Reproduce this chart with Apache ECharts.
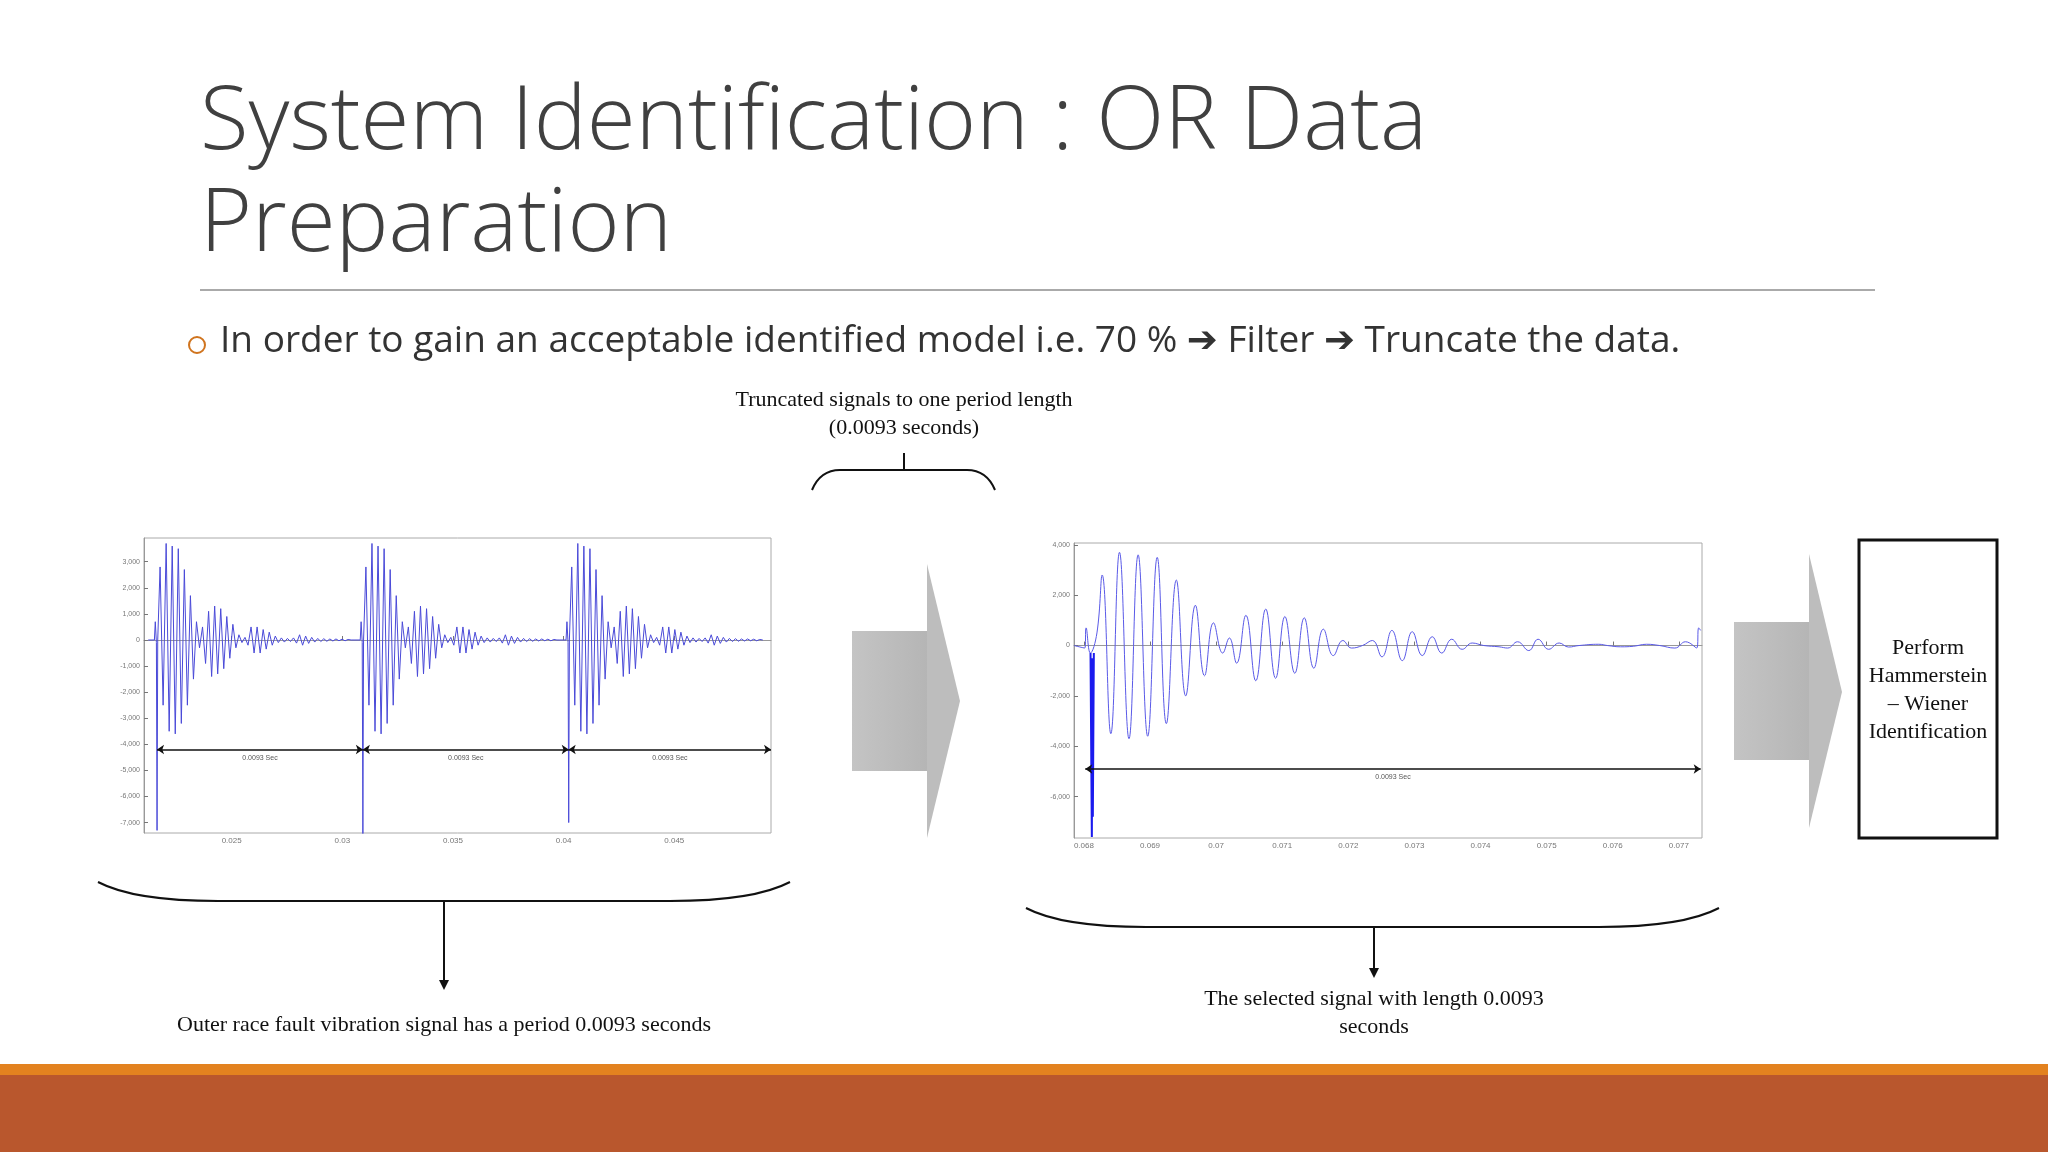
<!DOCTYPE html>
<html>
<head>
<meta charset="utf-8">
<script src="https://cdn.jsdelivr.net/npm/echarts@6/dist/echarts.min.js"></script>
<style>html,body{margin:0;padding:0;background:#fff}#main{width:2048px;height:1152px}</style>
</head>
<body>
<div id="main"></div>
<script>
// 左图: 三个周期的外圈故障振动信号
var leftBurstStarts = [0.02163, 0.03093, 0.04023];
var leftSpikeMins = [-7300, -7500, -7000];
var leftStep = 0.000137;
var leftBurstAmps = [2800, -2500, 3700, -3500, 3600, -3600, 3500, -3200, 2700, -2500, 1700, -1500, 700, -300,
    500, -900, 1100, -1400, 1300, -1300, 1200, -1100, 900, -700, 600, -300, 200, -100, 100, -200, 500, -500,
    500, -500, 400, -350, 300, -200, 150, -100, 80, -80, 60, -60, 80, -120, 200, -200, 150, -130, 100, -80,
    60, -60, 50, -50, 40, -40, 40, -30, 30, -30, 20, 0];
var leftXTicks = [0.025, 0.03, 0.035, 0.04, 0.045];
var leftYTicks = [-7000, -6000, -5000, -4000, -3000, -2000, -1000, 0, 1000, 2000, 3000];

// 右图: 截取一个周期的信号
var rightTimes = [0.06785, 0.068013, 0.068033, 0.068098, 0.068197, 0.068276, 0.068407, 0.068538, 0.068682,
    0.06882, 0.068965, 0.069109, 0.069247, 0.069398, 0.06954, 0.069686, 0.069824, 0.06996, 0.0701, 0.0702,
    0.07031, 0.07045, 0.0706, 0.07075, 0.0709, 0.07104, 0.07119, 0.071333, 0.071478, 0.071622, 0.071773,
    0.071917, 0.072049, 0.072213, 0.072364, 0.072508, 0.072659, 0.072816, 0.072967, 0.073118, 0.073269,
    0.073413, 0.073564, 0.073722, 0.073873, 0.07405, 0.07428, 0.07441, 0.07456, 0.07473, 0.07487, 0.07503,
    0.07519, 0.07533, 0.07549, 0.075789, 0.07592, 0.07612, 0.07631, 0.07651, 0.07671, 0.07694, 0.0771,
    0.07727, 0.0773, 0.07733];
var rightValues = [0, -100, 700, -300, 500, 2800, -3500, 3700, -3700, 3600, -3600, 3500, -3100, 2600, -2000,
    1600, -1200, 900, -300, 300, -700, 1200, -1400, 1450, -1300, 1150, -1100, 1100, -900, 650, -400, 200,
    -100, 0, 200, -450, 600, -600, 550, -400, 350, -300, 250, -150, 100, 0, -50, -100, 150, -200, 250, -150,
    100, -60, 0, 50, 0, -50, -30, 50, 0, -100, 150, -100, 700, 600];
var rightSpike = [[0.06810, -300], [0.06812, -7600], [0.068128, -500], [0.068135, -6800], [0.06815, -300]];
var rightXTicks = [0.068, 0.069, 0.070, 0.071, 0.072, 0.073, 0.074, 0.075, 0.076, 0.077];
var rightYTicks = [-6000, -4000, -2000, 0, 2000, 4000];

var leftData = [];
for (var b = 0; b < leftBurstStarts.length; b++) {
    var s = leftBurstStarts[b];
    leftData.push([s - 0.0004, 0], [s - 0.00012, 0], [s - 0.00008, 700], [s - 0.00003, -100],
        [s, leftSpikeMins[b]], [s + 0.00003, 0]);
    for (var i = 0; i < leftBurstAmps.length; i++) {
        leftData.push([s + leftStep * (i + 1), leftBurstAmps[i]]);
    }
}
var rightData = [];
for (var k = 0; k < rightTimes.length; k++) rightData.push([rightTimes[k], rightValues[k]]);

function fmtTick(v) { return String(+v.toFixed(3)); }
function xAx(idx, min, max, ticks) {
    return {
        type: 'value', gridIndex: idx, min: min, max: max,
        axisLine: {lineStyle: {color: '#999'}},
        axisTick: {inside: true, length: 4, customValues: ticks, lineStyle: {color: '#777'}},
        axisLabel: {customValues: ticks, fontSize: 8, color: '#777', formatter: fmtTick, margin: 4},
        splitLine: {show: false}
    };
}
function yAx(idx, min, max, ticks) {
    return {
        type: 'value', gridIndex: idx, min: min, max: max,
        axisLine: {show: true, lineStyle: {color: '#999'}},
        axisTick: {show: true, inside: true, length: 4, customValues: ticks, lineStyle: {color: '#777'}},
        axisLabel: {customValues: ticks, fontSize: 7, color: '#777', margin: 4},
        splitLine: {show: false}
    };
}
function arrowMark(y, segs) {
    return {
        silent: true, symbol: ['arrow', 'arrow'], symbolSize: 7,
        lineStyle: {color: '#111', width: 1.5, type: 'solid'},
        label: {show: true, position: 'middle', formatter: '0.0093 Sec', fontSize: 7, color: '#555',
            distance: -12},
        data: segs.map(function (p) { return [{coord: [p[0], y]}, {coord: [p[1], y]}]; })
    };
}

var serif = '"Liberation Serif", serif';
var sans = '"Open Sans", "Noto Sans", sans-serif';
function txt(x, y, t, size, font, color) {
    return {type: 'text', x: x, y: y, style: {text: t, fontSize: size, fontFamily: font,
        fill: color || '#111', textAlign: 'center', textVerticalAlign: 'middle'}};
}
function seg(x1, y1, x2, y2) {
    return {type: 'line', shape: {x1: x1, y1: y1, x2: x2, y2: y2}, style: {stroke: '#111', lineWidth: 2}};
}
function curve(x1, y1, cx, cy, x2, y2) {
    return {type: 'bezierCurve', shape: {x1: x1, y1: y1, cpx1: cx, cpy1: cy, x2: x2, y2: y2},
        style: {stroke: '#111', lineWidth: 2, fill: null}};
}
// 大括号: 两端弯曲, 中间水平
function brace(xl, xr, yEnd, yMid, bend) {
    return [curve(xl, yEnd, xl + bend * 0.3, yMid, xl + bend, yMid), seg(xl + bend, yMid, xr - bend, yMid),
        curve(xr - bend, yMid, xr - bend * 0.3, yMid, xr, yEnd)];
}
function downArrow(x, y1, y2) {
    return [seg(x, y1, x, y2 - 8),
        {type: 'polygon', shape: {points: [[x - 5, y2 - 10], [x + 5, y2 - 10], [x, y2]]}, style: {fill: '#111'}}];
}
var grayFill = {type: 'linear', x: 0, y: 0, x2: 1, y2: 0,
    colorStops: [{offset: 0, color: '#c4c4c4'}, {offset: 1, color: '#b5b5b5'}]};

var graphics = [
    {type: 'text', x: 200, y: 124, style: {text: 'System Identification : OR Data', fontSize: 89,
        fontFamily: sans, fontWeight: 300, fill: '#404040', textVerticalAlign: 'middle'}},
    {type: 'text', x: 200, y: 226, style: {text: 'Preparation', fontSize: 89,
        fontFamily: sans, fontWeight: 300, fill: '#404040', textVerticalAlign: 'middle'}},
    {type: 'line', shape: {x1: 200, y1: 290, x2: 1875, y2: 290}, style: {stroke: '#aaa', lineWidth: 2}},
    {type: 'circle', shape: {cx: 197, cy: 345, r: 8}, style: {fill: 'none', stroke: '#d0741e', lineWidth: 2}},
    {type: 'text', x: 220, y: 341, style: {text: 'In order to gain an acceptable identified model i.e. 70 % \u2794 Filter \u2794 Truncate the data.',
        fontSize: 37, fontFamily: sans + ', "DejaVu Sans"', fill: '#333', textVerticalAlign: 'middle'}},
    txt(904, 400, 'Truncated signals to one period length', 22, serif),
    txt(904, 428, '(0.0093 seconds)', 22, serif),
    seg(904, 453, 904, 470),
    txt(444, 1025, 'Outer race fault vibration signal has a period 0.0093 seconds', 22, serif),
    txt(1374, 999, 'The selected signal with length 0.0093', 22, serif),
    txt(1374, 1027, 'seconds', 22, serif),
    {type: 'rect', shape: {x: 852, y: 631, width: 76, height: 140}, style: {fill: grayFill}},
    {type: 'polygon', shape: {points: [[927, 564], [960, 701], [927, 838]]}, style: {fill: '#bdbdbd'}},
    {type: 'rect', shape: {x: 1734, y: 622, width: 76, height: 138}, style: {fill: grayFill}},
    {type: 'polygon', shape: {points: [[1809, 554], [1842, 692], [1809, 828]]}, style: {fill: '#bdbdbd'}},
    {type: 'rect', shape: {x: 1859, y: 540, width: 138, height: 298}, style: {fill: '#fff', stroke: '#111', lineWidth: 3}},
    txt(1928, 648, 'Perform', 22, serif),
    txt(1928, 676, 'Hammerstein', 22, serif),
    txt(1928, 704, '\u2013 Wiener', 22, serif),
    txt(1928, 732, 'Identification', 22, serif),
    {type: 'rect', shape: {x: 0, y: 1064, width: 2048, height: 11}, style: {fill: '#e3821f'}},
    {type: 'rect', shape: {x: 0, y: 1075, width: 2048, height: 77}, style: {fill: '#b9572d'}}
].concat(brace(812, 995, 490, 470, 28), brace(98, 790, 882, 901, 120), brace(1026, 1719, 908, 927, 120),
    downArrow(444, 901, 990), downArrow(1374, 927, 978));

var chart = echarts.init(document.getElementById('main'));
chart.setOption({
    animation: false,
    backgroundColor: '#fff',
    grid: [
        {left: 144, top: 538, width: 627, height: 295, show: true, borderColor: '#aaa', borderWidth: 1, backgroundColor: '#fff'},
        {left: 1074, top: 543, width: 628, height: 295, show: true, borderColor: '#aaa', borderWidth: 1, backgroundColor: '#fff'}
    ],
    xAxis: [xAx(0, 0.02104, 0.04937, leftXTicks), xAx(1, 0.06785, 0.07735, rightXTicks)],
    yAxis: [yAx(0, -7400, 3910, leftYTicks), yAx(1, -7640, 4070, rightYTicks)],
    series: [
        {type: 'line', xAxisIndex: 0, yAxisIndex: 0, data: leftData, showSymbol: false,
            lineStyle: {color: '#4a4ad8', width: 1},
            markLine: arrowMark(-4200, [[0.02163, 0.03093], [0.03093, 0.04023], [0.04023, 0.04937]])},
        {type: 'line', xAxisIndex: 1, yAxisIndex: 1, data: rightData, showSymbol: false, smooth: 0.45,
            lineStyle: {color: '#5a5ae8', width: 1},
            markLine: arrowMark(-4900, [[0.06802, 0.07733]])},
        {type: 'line', xAxisIndex: 1, yAxisIndex: 1, data: rightSpike, showSymbol: false,
            lineStyle: {color: '#1a1aee', width: 2}}
    ],
    graphic: graphics
});
</script>
</body>
</html>
